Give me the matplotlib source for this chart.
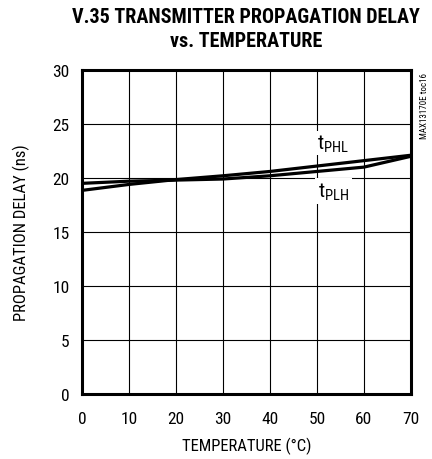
import numpy as np
import matplotlib.pyplot as plt
import logging

logging.getLogger('matplotlib.font_manager').setLevel(logging.ERROR)

# data
temp = [0, 10, 20, 30, 40, 50, 60, 70]
t_phl = [18.85, 19.4, 19.85, 20.2, 20.6, 21.1, 21.6, 22.1]
t_plh = [19.5, 19.7, 19.8, 19.9, 20.2, 20.6, 21.0, 22.0]
xticks = [0, 10, 20, 30, 40, 50, 60, 70]
yticks = [0, 5, 10, 15, 20, 25, 30]

# narrow fonts, first one found wins
body = ['Roboto Condensed', 'Archivo Narrow', 'Barlow Semi Condensed', 'DejaVu Sans']
plt.rcParams['font.family'] = body
plt.rcParams['mathtext.fontset'] = 'custom'
plt.rcParams['mathtext.rm'] = 'Roboto Condensed'
plt.rcParams['mathtext.it'] = 'Roboto Condensed'

fig = plt.figure(figsize=(4.32, 4.6), dpi=100)
ax = fig.add_axes([0.19, 0.141, 0.761, 0.705])

ax.plot(temp, t_phl, color='black', lw=2.3, solid_capstyle='butt', zorder=3)
ax.plot(temp, t_plh, color='black', lw=2.3, solid_capstyle='butt', zorder=3)

ax.set_xlim(0, 70)
ax.set_ylim(0, 30)
ax.set_xticks(xticks)
ax.set_yticks(yticks)
ax.grid(True, color='black', lw=0.8)
ax.tick_params(axis='x', length=0, labelsize=12.5, pad=12)
ax.tick_params(axis='y', length=0, labelsize=12.5, pad=9)
for s in ax.spines.values():
    s.set_linewidth(2.2)

ax.set_xlabel('TEMPERATURE (°C)', fontsize=12, labelpad=8)
ax.set_ylabel('PROPAGATION DELAY (ns)', fontsize=12, labelpad=16)

ax.text(53.5, 23.2, r'$\mathregular{t_{PHL}}$', fontsize=15, ha='center', va='center',
        bbox=dict(facecolor='white', edgecolor='none', pad=1), zorder=4)
ax.text(53.5, 18.8, r'$\mathregular{t_{PLH}}$', fontsize=15, ha='center', va='center',
        bbox=dict(facecolor='white', edgecolor='none', pad=2), zorder=4)

fig.text(0.57, 0.982, 'V.35 TRANSMITTER PROPAGATION DELAY\nvs. TEMPERATURE',
         ha='center', va='top', fontsize=14.5, fontweight='heavy', linespacing=1.3,
         family=['Roboto Condensed', 'Barlow Semi Condensed', 'DejaVu Sans'])
fig.text(0.983, 0.77, 'MAX13170E toc16', rotation=90, ha='center', va='center', fontsize=6.5)

fig.savefig('out.png', dpi=100)
